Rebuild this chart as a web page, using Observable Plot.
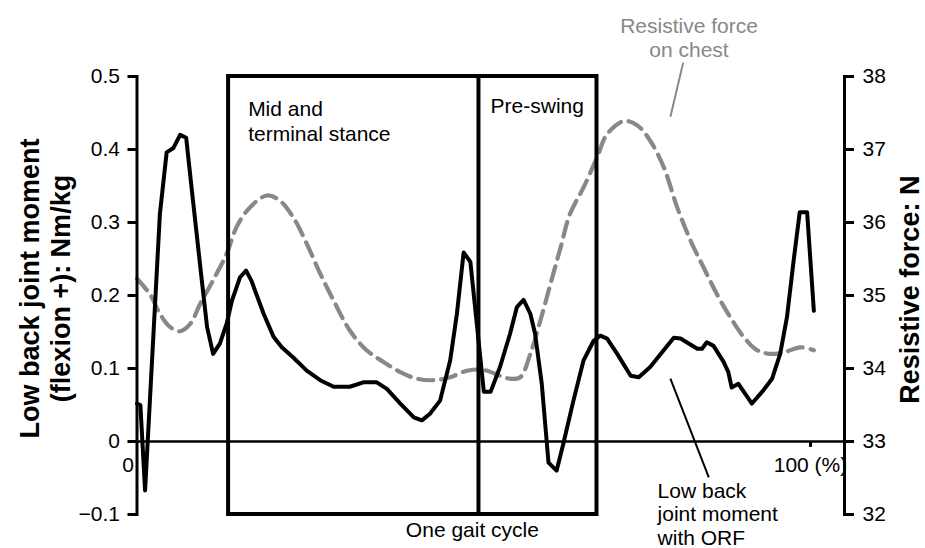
<!DOCTYPE html>
<html><head><meta charset="utf-8">
<script src="https://cdn.jsdelivr.net/npm/d3@7"></script>
<script src="https://cdn.jsdelivr.net/npm/@observablehq/plot@0.6"></script>
<style>body{margin:0;background:#fff} svg{display:block}</style>
</head><body><div id="chart"></div>
<script>
// Low back joint moment with ORF (Nm/kg), by % of gait cycle
const momentPct = [0,0.5,1.2,3.4,4.4,5.4,6.4,7.3,8.1,9.4,10.4,11.3,12.3,13.3,14.1,15.3,16.2,17.0,18.8,20.3,21.5,23.2,25.2,27.2,29.2,31.6,33.6,35.6,37.1,39.1,41.1,42.3,43.5,45.0,46.5,47.5,48.5,49.5,50.5,51.5,52.5,53.9,55.4,56.4,57.4,58.4,59.1,60.1,61.1,62.3,63.3,64.8,66.3,67.8,68.8,69.8,71.3,73.3,74.5,76.2,78.2,79.7,80.7,83.2,83.9,84.6,85.6,87.1,87.8,88.3,89.3,91.3,93.0,94.3,95.5,96.5,97.5,98.4,99.5,100.5];
const momentVal = [0.052,0.05,-0.067,0.312,0.396,0.402,0.42,0.416,0.348,0.239,0.157,0.12,0.134,0.161,0.193,0.225,0.234,0.22,0.175,0.143,0.129,0.115,0.097,0.084,0.075,0.075,0.081,0.081,0.072,0.052,0.033,0.029,0.038,0.056,0.111,0.175,0.259,0.246,0.157,0.068,0.068,0.102,0.148,0.184,0.194,0.175,0.148,0.079,-0.029,-0.04,-0.003,0.056,0.111,0.138,0.145,0.141,0.12,0.09,0.088,0.102,0.125,0.142,0.141,0.127,0.127,0.136,0.131,0.109,0.095,0.074,0.079,0.052,0.07,0.086,0.12,0.17,0.248,0.314,0.314,0.179];

// Resistive force on chest (N), by % of gait cycle
const forcePct = [0,1.9,3.4,4.9,6.4,7.9,9.4,11.3,13.3,14.8,16.8,19.3,21.2,23.2,25.2,27.2,29.2,31.6,34.1,36.6,39.1,41.6,44.0,46.5,49.0,51.5,53.9,55.4,56.9,58.4,59.9,61.4,62.9,64.3,66.3,68.3,69.8,72.3,74.3,76.2,78.2,80.2,82.2,84.1,86.1,88.1,90.1,92.1,94.1,96.0,98.5,100.5];
const forceVal = [35.23,35.02,34.75,34.57,34.51,34.61,34.89,35.21,35.57,35.94,36.21,36.37,36.30,36.07,35.71,35.30,34.93,34.52,34.25,34.09,33.95,33.86,33.84,33.88,33.97,33.98,33.90,33.86,33.88,34.20,34.66,35.16,35.66,36.12,36.48,36.89,37.21,37.39,37.33,37.12,36.76,36.21,35.75,35.39,35.02,34.70,34.43,34.25,34.20,34.22,34.29,34.25];

const leftTicks = [-0.1,0,0.1,0.2,0.3,0.4,0.5];
const leftTickLabels = ["\u22120.1","0","0.1","0.2","0.3","0.4","0.5"];
const rightTicks = [32,33,34,35,36,37,38];
const rightTickLabels = ["32","33","34","35","36","37","38"];
const xTicks = [0,100];
const xTickLabels = ["0","100 (%)"];
const phaseBounds = [13.6,50.7,68.3];
const phaseLabels = ["Mid and\nterminal stance","Pre-swing"];
const cycleLabel = "One gait cycle";
const seriesLabels = ["Resistive force\non chest","Low back\njoint moment\nwith ORF"];
const axisTitles = ["Low back joint moment\n(flexion +): Nm/kg","Resistive force: N"];

// right axis (N) mapped onto left axis (Nm/kg): 33 N ↔ 0, 1 N ↔ 0.1
const toY = n => (n - 33) * 0.1;

const moment = momentPct.map((p,i)=>({x:p, y:momentVal[i]}));
const force = forcePct.map((p,i)=>({x:p, y:toY(forceVal[i])}));

const FONT = "Liberation Sans, Arial, Helvetica, sans-serif";

const chart = Plot.plot({
  width: 925, height: 548,
  marginLeft: 136.5, marginRight: 81, marginTop: 76, marginBottom: 34,
  x: {domain: [0, 105.05], axis: null},
  y: {domain: [-0.1, 0.5], axis: null},
  style: {fontFamily: FONT, fontSize: "21px", background: "white", color: "black"},
  marks: [
    Plot.ruleY([0], {stroke: "black", strokeWidth: 2.5}),
    Plot.line(force, {x: "x", y: "y", stroke: "#888", strokeWidth: 4.2, strokeDasharray: "15,8", curve: "catmull-rom"}),
    Plot.line(moment, {x: "x", y: "y", stroke: "black", strokeWidth: 4, strokeLinejoin: "round"}),
    Plot.rect([{a: phaseBounds[0], b: phaseBounds[2], lo: -0.1, hi: 0.5}], {x1: "a", x2: "b", y1: "lo", y2: "hi", fill: "none", stroke: "black", strokeWidth: 4}),
    Plot.ruleX([phaseBounds[1]], {y1: -0.1, y2: 0.5, stroke: "black", strokeWidth: 4}),
    Plot.frame({anchor: "left", strokeWidth: 3}),
    Plot.frame({anchor: "right", strokeWidth: 3}),
    Plot.axisY(leftTicks, {anchor: "left", tickFormat: d => leftTickLabels[leftTicks.indexOf(d)], tickSize: 9, tickPadding: 8, strokeWidth: 3, fontSize: 21, label: null}),
    Plot.axisY(rightTicks.map(toY), {anchor: "right", tickFormat: d => rightTickLabels[rightTicks.findIndex(n => Math.abs(toY(n) - d) < 1e-9)], tickSize: 9, tickPadding: 9, strokeWidth: 3, fontSize: 21, label: null}),
    Plot.ruleX([xTicks[1]], {y1: 0, y2: -0.008, stroke: "black", strokeWidth: 3}),
    Plot.text([xTicks[0]], {x: d => d, y: 0, text: () => xTickLabels[0], textAnchor: "end", dx: -3, dy: 24, fontSize: 21}),
    Plot.text([xTicks[1]], {x: d => d, y: 0, text: () => xTickLabels[1], textAnchor: "middle", dy: 24, fontSize: 21}),
    Plot.text([phaseLabels[0]], {x: phaseBounds[0] + 2.9, y: 0.471, text: d => d, textAnchor: "start", lineAnchor: "top", lineHeight: 1.22, fontSize: 21}),
    Plot.text([phaseLabels[1]], {x: phaseBounds[1] + 1.8, y: 0.471, text: d => d, textAnchor: "start", lineAnchor: "top", fontSize: 21}),
    Plot.text([cycleLabel], {x: 49.8, y: -0.111, text: d => d, textAnchor: "middle", lineAnchor: "top", fontSize: 21}),
    Plot.text([seriesLabels[0]], {x: 81.96, y: 0.5836, text: d => d, textAnchor: "middle", lineAnchor: "top", lineHeight: 1.17, fontSize: 21, fill: "#888"}),
    Plot.link([{x1: 81.1, y1: 0.519, x2: 79.2, y2: 0.445}], {x1: "x1", y1: "y1", x2: "x2", y2: "y2", stroke: "#888", strokeWidth: 2}),
    Plot.text([seriesLabels[1]], {x: 77.3, y: -0.054, text: d => d, textAnchor: "start", lineAnchor: "top", lineHeight: 1.12, fontSize: 21}),
    Plot.link([{x1: 79.2, y1: 0.086, x2: 84.9, y2: -0.049}], {x1: "x1", y1: "y1", x2: "x2", y2: "y2", stroke: "black", strokeWidth: 2}),
    Plot.text([axisTitles[0]], {x: -13.7, y: 0.2096, text: d => d, rotate: -90, textAnchor: "middle", lineAnchor: "middle", lineHeight: 1.12, fontSize: 27, fontWeight: "bold"}),
    Plot.text([axisTitles[1]], {x: 114.9, y: 0.208, text: d => d, rotate: -90, textAnchor: "middle", lineAnchor: "middle", fontSize: 27, fontWeight: "bold"})
  ]
});
document.getElementById("chart").appendChild(chart);
</script>
</body></html>
